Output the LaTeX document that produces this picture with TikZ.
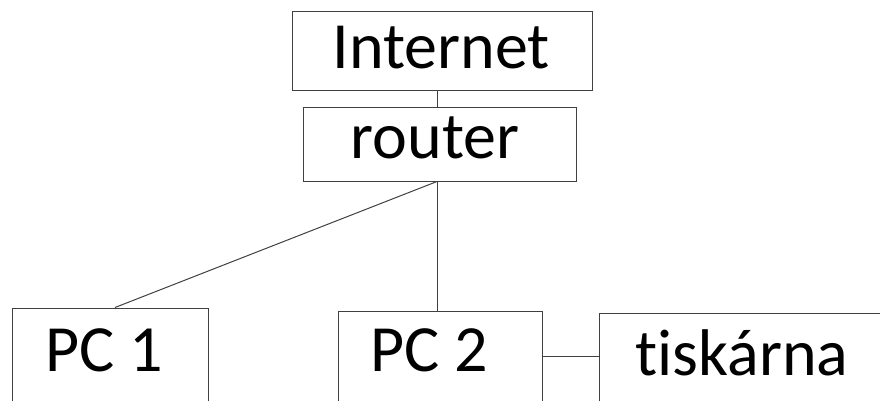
\documentclass[tikz,border=0pt]{standalone}
\usepackage{fontspec}
\setmainfont[Ligatures=NoCommon]{Carlito}
\begin{document}
\begin{tikzpicture}[x=1pt,y=-1pt,
  box/.style={draw=black!75,line width=1pt,inner sep=0pt,anchor=center},
  lbl/.style={anchor=base,inner sep=0pt,font=\fontsize{66}{70}\selectfont},
  conn/.style={draw=black!75,line width=1pt}]
\useasboundingbox (0,0) rectangle (880,400);
\clip (0,0) rectangle (880,400);
\node[box,minimum width=300pt,minimum height=79pt] (int) at (442,50.5) {};
\node[box,minimum width=273pt,minimum height=74pt] (router) at (439.5,144) {};
\node[box,minimum width=196pt,minimum height=122pt] (pc1) at (110,369) {};
\node[box,minimum width=204pt,minimum height=119pt] (pc2) at (440,370.5) {};
\node[box,minimum width=301pt,minimum height=117pt] (tisk) at (749.5,371.5) {};
\node[lbl] (tint) at (441,68) {Internet};
\node[lbl] (trouter) at (435,158) {router};
\node[lbl] (tpc1) at (104,371) {PC 1};
\node[lbl] (tpc2) at (429,371) {PC 2};
\node[lbl] (ttisk) at (742,375) {tiskárna};
\coordinate (bus) at (437,0);
\coordinate (bus2) at (0,356);
\draw[conn] (int.south -| bus) -- (router.north -| bus);
\draw[conn] (router.south -| bus) -- (pc2.north -| bus);
\draw[conn] (router.south -| bus) -- ([xshift=5pt]pc1.north);
\draw[conn] (pc2.east |- bus2) -- (tisk.west |- bus2);
\end{tikzpicture}
\end{document}
